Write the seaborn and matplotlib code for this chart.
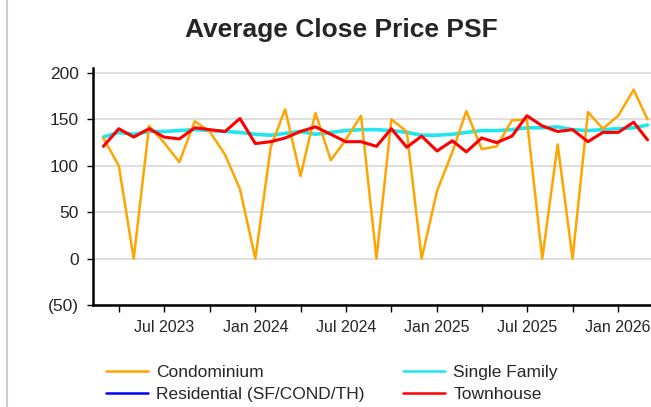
import numpy as np
import pandas as pd
import matplotlib
matplotlib.use('Agg')
import matplotlib.pyplot as plt
import matplotlib.dates as mdates
from matplotlib.lines import Line2D
from matplotlib.ticker import FuncFormatter
import seaborn as sns

months = pd.date_range('2023-03-01', '2026-03-01', freq='MS')

condominium = [130, 100, 0, 143, 125, 104, 148, 137, 112, 75, 0, 120, 161,
               89, 157, 106, 128, 154, 0, 150, 137, 0, 73, 115, 159, 118,
               121, 149, 150, 0, 123, 0, 158, 140, 154, 182, 150]
single_family = [131, 136, 134, 137, 137, 138, 139, 138, 137, 136, 134, 133, 135,
                 137, 134, 136, 138, 139, 139, 138, 136, 133, 133, 134, 136, 138,
                 138, 139, 141, 141, 142, 139, 138, 139, 140, 141, 144]
residential = [np.nan] * len(months)
townhouse = [121, 140, 131, 140, 131, 129, 141, 139, 137, 151, 124, 126, 130,
             137, 142, 134, 126, 126, 121, 140, 120, 132, 116, 127, 115, 130,
             125, 132, 154, 143, 137, 139, 126, 136, 136, 147, 128]

series = ['Condominium', 'Single Family', 'Residential (SF/COND/TH)', 'Townhouse']
colors = {'Condominium': '#FFA500', 'Single Family': '#22E5F0',
          'Residential (SF/COND/TH)': '#0000FF', 'Townhouse': '#FF0000'}
widths = {'Condominium': 1.8, 'Single Family': 2.6,
          'Residential (SF/COND/TH)': 2.0, 'Townhouse': 2.2}

df = pd.DataFrame({'Month': months, 'Condominium': condominium,
                   'Single Family': single_family,
                   'Residential (SF/COND/TH)': residential,
                   'Townhouse': townhouse})
long = df.melt(id_vars='Month', var_name='Type', value_name='PSF')

sns.set_style('white')
plt.rcParams['font.family'] = ['Liberation Sans', 'DejaVu Sans']

fig = plt.figure(figsize=(6.51, 4.07), dpi=100)
ax = fig.add_axes([93 / 651, 102 / 407, 558 / 651, 236.6 / 407])

for name in ['Single Family', 'Residential (SF/COND/TH)', 'Condominium', 'Townhouse']:
    sub = long[long['Type'] == name].dropna()
    if len(sub):
        sns.lineplot(data=sub, x='Month', y='PSF', color=colors[name],
                     linewidth=widths[name], ax=ax, legend=False)

ax.set_ylim(-50, 205)
ax.set_yticks([-50, 0, 50, 100, 150, 200])
ax.yaxis.set_major_formatter(FuncFormatter(lambda v, p: f'({abs(int(v))})' if v < 0 else f'{int(v)}'))
ax.set_xlim(pd.Timestamp('2023-02-08'), pd.Timestamp('2026-03-08'))
ax.xaxis.set_major_locator(mdates.MonthLocator(bymonth=[1, 7]))
ax.xaxis.set_major_formatter(mdates.DateFormatter('%b %Y'))
ax.xaxis.set_minor_locator(mdates.MonthLocator(bymonth=[4, 10]))
ax.grid(axis='y', color='#d9d9d9', linewidth=1.2)
ax.set_axisbelow(True)
ax.set_xlabel('')
ax.set_ylabel('')
for s in ['top', 'right']:
    ax.spines[s].set_visible(False)
for s in ['left', 'bottom']:
    ax.spines[s].set_color('black')
    ax.spines[s].set_linewidth(1.8)
ax.tick_params(axis='y', which='major', length=4, width=1, color='black',
               labelsize=12.5, pad=6, left=True)
ax.tick_params(axis='x', which='both', length=5, width=1, color='black',
               labelsize=11.5, pad=6, bottom=True)

fig.text(0.525, 0.927, 'Average Close Price PSF', ha='center', va='center',
         fontsize=19, fontweight='bold')

order = ['Condominium', 'Residential (SF/COND/TH)', 'Single Family', 'Townhouse']
handles = [Line2D([], [], color=colors[n], linewidth=1.8) for n in order]
fig.legend(handles, order, ncol=2, loc='center', bbox_to_anchor=(0.51, 0.058),
           frameon=False, fontsize=12.5, handlelength=2.4, columnspacing=2.2,
           labelspacing=0.35, handletextpad=0.5)

fig.add_artist(Line2D([7 / 651, 7 / 651], [0, 1], color='#cccccc', linewidth=1.5))

fig.savefig('out.png', dpi=100)
